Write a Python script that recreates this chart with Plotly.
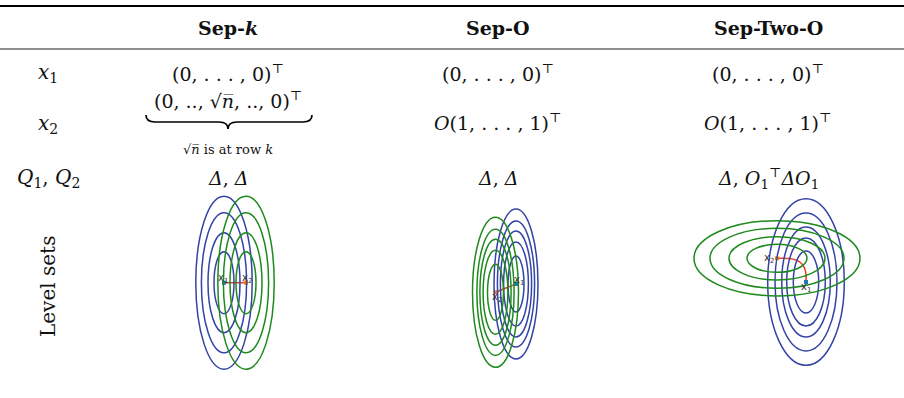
import plotly.graph_objects as go

# ---------------- table content ----------------
col_headers = ["<b>Sep-</b><b><i>k</i></b>", "<b>Sep-O</b>", "<b>Sep-Two-O</b>"]
col_x = [228, 498, 768]
row_labels = ["<i>x</i><sub>1</sub>", "<i>x</i><sub>2</sub>", "<i>Q</i><sub>1</sub>, <i>Q</i><sub>2</sub>"]
row_y = [73, 124, 178]
x1_cells = ["(0, . . . , 0)<sup>⊤</sup>"] * 3
x2_cells = ["(0, .., √<i>n̅</i>, .., 0)<sup>⊤</sup>",
            "<i>O</i>(1, . . . , 1)<sup>⊤</sup>",
            "<i>O</i>(1, . . . , 1)<sup>⊤</sup>"]
x2_note = "√<i>n̅</i> is at row <i>k</i>"
q_cells = ["<i>Δ</i>, <i>Δ</i>", "<i>Δ</i>, <i>Δ</i>",
           "<i>Δ</i>, <i>O</i><sub>1</sub><sup>⊤</sup><i>ΔO</i><sub>1</sub>"]
level_label = "Level sets"

# ---------------- level-set panels ----------------
# centers (pixel space of the table) of the two quadratics in each panel
blue_center = [(224, 282.7), (516, 284), (806, 282)]
green_center = [(246, 282.7), (495.5, 292.3), (777, 258.3)]
# semi-axes (half-width, half-height) of each level curve
sepk_blue_w = [10, 16, 22.6, 28.2]
sepk_blue_h = [31, 50, 70, 86.5]
sepk_green_w = [10, 16, 22.6, 28.2]
sepk_green_h = [31, 50, 70, 86.5]
sepo_blue_w = [8, 12.4, 15.6, 18.6, 22]
sepo_blue_h = [28, 42, 53, 63, 75]
sepo_green_w = [8, 12.4, 15.6, 18.6, 23]
sepo_green_h = [28, 42, 53, 63, 75]
two_blue_w = [12.7, 19.3, 24.3, 31, 38.3]
two_blue_h = [31, 44, 55, 69, 83.3]
two_green_w = [30, 48, 67, 83]
two_green_h = [14, 21.6, 30, 37.6]

blue_w = [sepk_blue_w, sepo_blue_w, two_blue_w]
blue_h = [sepk_blue_h, sepo_blue_h, two_blue_h]
green_w = [sepk_green_w, sepo_green_w, two_green_w]
green_h = [sepk_green_h, sepo_green_h, two_green_h]

# optimisation paths between x1 and x2
path_x = [[224, 246], [516, 495.5], [806, 806, 804.5, 801, 796, 789, 777]]
path_y = [[282.7, 282.7], [284, 292.3], [282, 274, 268, 263, 260, 258.5, 258.3]]

BLUE = "#3343a6"
GREEN = "#1e8a1e"
RED = "#e8412c"
SERIF = "DejaVu Serif"

fig = go.Figure()
shapes = []

# ellipses
for p in range(3):
    cx, cy = blue_center[p]
    for w, h in zip(blue_w[p], blue_h[p]):
        shapes.append(dict(type="circle", xref="x", yref="y", x0=cx - w, x1=cx + w,
                           y0=cy - h, y1=cy + h, line=dict(color=BLUE, width=1.5)))
    cx, cy = green_center[p]
    for w, h in zip(green_w[p], green_h[p]):
        shapes.append(dict(type="circle", xref="x", yref="y", x0=cx - w, x1=cx + w,
                           y0=cy - h, y1=cy + h, line=dict(color=GREEN, width=1.5)))

for p in range(3):
    fig.add_trace(go.Scatter(x=path_x[p], y=path_y[p], mode="lines",
                             line=dict(color=RED, width=1.6, shape="spline"),
                             hoverinfo="skip", showlegend=False))
    fig.add_trace(go.Scatter(x=[blue_center[p][0]], y=[blue_center[p][1]], mode="markers",
                             marker=dict(symbol="square", size=4, color="#1f77b4"),
                             hoverinfo="skip", showlegend=False))
    fig.add_trace(go.Scatter(x=[green_center[p][0]], y=[green_center[p][1]], mode="markers",
                             marker=dict(symbol="square", size=4, color="#ff7f0e"),
                             hoverinfo="skip", showlegend=False))

# point labels
pt_label_pos = [
    [(223, 278, "x<sub>1</sub>"), (247, 278, "x<sub>2</sub>")],
    [(518.5, 280, "x<sub>1</sub>"), (496.5, 297.5, "x<sub>2</sub>")],
    [(806, 287, "x<sub>1</sub>"), (768.5, 258.5, "x<sub>2</sub>")],
]
annotations = []
for lst in pt_label_pos:
    for (x, y, t) in lst:
        annotations.append(dict(x=x, y=y, xref="x", yref="y", text=t, showarrow=False,
                                font=dict(family="DejaVu Sans", size=10, color="#333"),
                                xanchor="center", yanchor="middle"))

# rules
shapes.append(dict(type="line", xref="x", yref="y", x0=0, x1=904, y0=6, y1=6,
                   line=dict(color="black", width=2)))
shapes.append(dict(type="line", xref="x", yref="y", x0=0, x1=904, y0=49, y1=49,
                   line=dict(color="#222", width=1.2)))

# underbrace for Sep-k x2 cell
bx0, bx1, bxm, by0, by1 = 146, 312, 228, 115, 129
shapes.append(dict(type="path", xref="x", yref="y",
                   path=(f"M {bx0},{by0} Q {bx0},{by0+7} {bx0+9},{by0+7} "
                         f"L {bxm-9},{by0+7} Q {bxm},{by0+7} {bxm},{by1} "
                         f"Q {bxm},{by0+7} {bxm+9},{by0+7} "
                         f"L {bx1-9},{by0+7} Q {bx1},{by0+7} {bx1},{by0}"),
                   line=dict(color="black", width=1.7)))

def add_text(x, y, t, size=20, **kw):
    annotations.append(dict(x=x, y=y, xref="x", yref="y", text=t, showarrow=False,
                            font=dict(family=SERIF, size=size, color="#111"),
                            xanchor="center", yanchor="middle", **kw))

for x, h in zip(col_x, col_headers):
    add_text(x, 28, h, size=19)
for y, lab in zip(row_y, row_labels):
    add_text(48, y, lab, size=20)
for x, t in zip(col_x, x1_cells):
    add_text(x, row_y[0], t, size=19)
add_text(col_x[0], 100, x2_cells[0], size=19)
add_text(col_x[1], 122, x2_cells[1], size=19)
add_text(col_x[2], 122, x2_cells[2], size=19)
add_text(col_x[0], 149, x2_note, size=13)
for x, t in zip(col_x, q_cells):
    add_text(x, row_y[2], t, size=19)
add_text(48, 287, level_label, size=20, textangle=-90)

fig.update_layout(
    width=904, height=398, margin=dict(l=0, r=0, t=0, b=0),
    paper_bgcolor="white", plot_bgcolor="white",
    xaxis=dict(range=[0, 904], visible=False, fixedrange=True),
    yaxis=dict(range=[398, 0], visible=False, fixedrange=True),
    shapes=shapes, annotations=annotations, showlegend=False,
)
fig.write_html("out.html")
